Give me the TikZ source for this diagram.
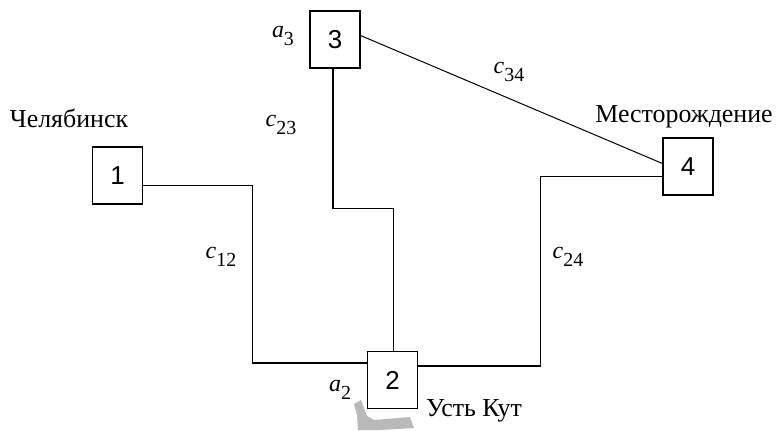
\documentclass[tikz,border=0pt]{standalone}
\usepackage{fontspec}
\setmainfont{Liberation Serif}
\newfontfamily\numfont{Liberation Sans}
\newcommand\wlab[2]{\textit{#1}\raisebox{-8bp}{\fontsize{20}{21}\selectfont #2}}

\tikzset{
    stn/.style={draw,line width=1.1bp,minimum width=50bp,minimum height=57bp,inner sep=0pt,font=\fontsize{26}{28}\numfont},
    road/.style={line width=1.1bp},
    txt/.style={inner sep=0pt,font=\fontsize{24}{26}\selectfont},
    town/.style={inner sep=0pt,font=\fontsize{26}{28}\selectfont}
}

\begin{document}
\begin{tikzpicture}[x=1bp,y=-1bp]
            \useasboundingbox[fill=white] (0,0) rectangle (777,430);

            \node[stn] (n1) at (117.5,175.5) {1};
            \node[stn] (n2) at (392.5,380) {2};
            \node[stn] (n3) at (335,39.5) {3};
            \node[stn] (n4) at (688,166.5) {4};

            \draw[road] ([yshift=-10bp]n1.east) -- ++(109,0) |- ([yshift=17bp]n2.west);
            \draw[road] ([xshift=-2bp]n3.south) -- ++(0,140) -| ([xshift=1bp]n2.north);
            \draw[road] ([yshift=14bp]n2.east) -- ++(122,0) |- ([yshift=-10bp]n4.west);
            \draw[road,line width=1bp] ([yshift=4bp]n3.east) -- ([yshift=3bp]n4.west);

            \node[town] (chel) at (69,118) {Челябинск};
            \node[town] (mest) at (684,117) {Месторождение};
            \node[town] (kut) at (474,411) {Усть Кут};

            \node[txt] (a3) at (283,36) {\wlab{a}{3}};
            \node[txt] (a2) at (340,390) {\wlab{a}{2}};
            \node[txt] (c12) at (221,257) {\wlab{c}{12}};
            \node[txt] (c23) at (281,125) {\wlab{c}{23}};
            \node[txt] (c24) at (568,257) {\wlab{c}{24}};
            \node[txt] (c34) at (509,72) {\wlab{c}{34}};

            \fill[gray!55] (354,404) -- (361,400) -- (367,416) -- (374,420) -- (410,417)
                -- (414,428) -- (380,430) -- (358,430) -- (357,415) -- cycle;
\end{tikzpicture}
\end{document}
